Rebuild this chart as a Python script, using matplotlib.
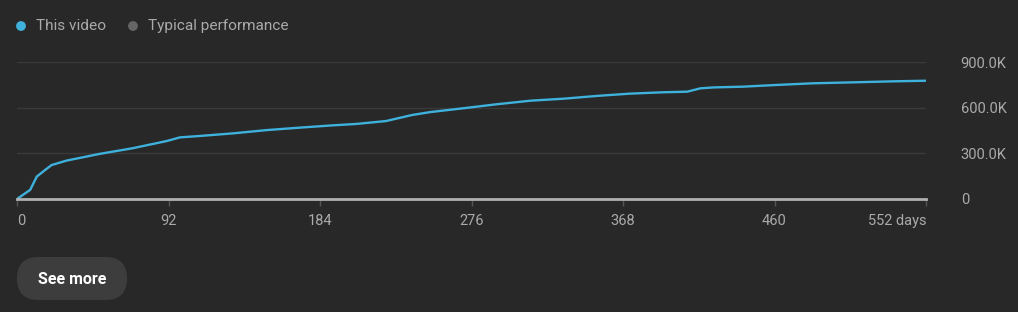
import matplotlib.pyplot as plt
from matplotlib.patches import FancyBboxPatch

plt.rcParams['font.family'] = ['Roboto', 'DejaVu Sans']

# Cumulative views
days = [0, 4, 8, 12, 17, 21, 30, 50, 70, 91, 99, 111, 131, 152, 172, 192,
        206, 224, 240, 251, 271, 291, 312, 332, 352, 372, 392, 407, 415, 423,
        441, 461, 483, 510, 532, 552]
views = [0, 30e3, 60e3, 147e3, 190e3, 223e3, 252e3, 296e3, 333e3, 381e3,
         405e3, 414e3, 431e3, 453e3, 469e3, 484e3, 493e3, 512e3, 552e3,
         571e3, 596e3, 622e3, 646e3, 659e3, 677e3, 692e3, 701e3, 705e3,
         727e3, 733e3, 738e3, 749e3, 760e3, 767e3, 773e3, 777e3]

xticks = [0, 92, 184, 276, 368, 460, 552]
xlabels = ["0", "92", "184", "276", "368", "460", "552 days"]
yticks = [0, 300e3, 600e3, 900e3]
ylabels = ["0", "300.0K", "600.0K", "900.0K"]

bg = "#282828"
txt = "#aaaaaa"
blue = "#3eb1dc"

fig = plt.figure(figsize=(10.18, 3.12), dpi=100, facecolor=bg)
ax = fig.add_axes([17 / 1018, 113 / 312, 909 / 1018, 137 / 312])
ax.set_facecolor(bg)

ax.plot(days, views, color=blue, lw=1.7, solid_joinstyle="round")

ax.set_xlim(0, 552)
ax.set_ylim(0, 900e3)
ax.set_xticks(xticks)
ax.set_xticklabels(xlabels)
labs = ax.get_xticklabels()
labs[0].set_ha("left")
labs[-1].set_ha("right")
ax.set_yticks(yticks)
ax.set_yticklabels(ylabels)
ax.yaxis.tick_right()

ax.tick_params(axis="x", colors="#555555", length=5, width=1, pad=6,
               labelcolor=txt, labelsize=10.5)
ax.tick_params(axis="y", length=0, pad=25, labelcolor=txt, labelsize=10.5)

ax.grid(axis="y", color="#3a3a3a", lw=1)
ax.set_axisbelow(True)
for s in ["top", "left", "right"]:
    ax.spines[s].set_visible(False)
ax.spines["bottom"].set_color("#b0b0b0")
ax.spines["bottom"].set_linewidth(2)
ax.spines["bottom"].set_zorder(3)

# overlay in pixel coordinates for legend and button
ov = fig.add_axes([0, 0, 1, 1], facecolor="none")
ov.set_xlim(0, 1018)
ov.set_ylim(312, 0)
ov.axis("off")

ov.scatter([21], [26], s=50, color=blue, edgecolors="none")
ov.text(36, 26, "This video", color=txt, fontsize=11.1, va="center")
ov.scatter([133], [26], s=50, color="#666666", edgecolors="none")
ov.text(148, 26, "Typical performance", color=txt, fontsize=11.1,
        va="center")

btn = FancyBboxPatch((17, 257), 110, 43,
                     boxstyle="round,pad=0,rounding_size=21.5",
                     facecolor="#3d3d3d", edgecolor="none")
ov.add_patch(btn)
ov.text(72, 279, "See more", color="white", fontsize=11.5,
        fontweight="bold", ha="center", va="center")

fig.savefig("out.png", dpi=100, facecolor=bg)
